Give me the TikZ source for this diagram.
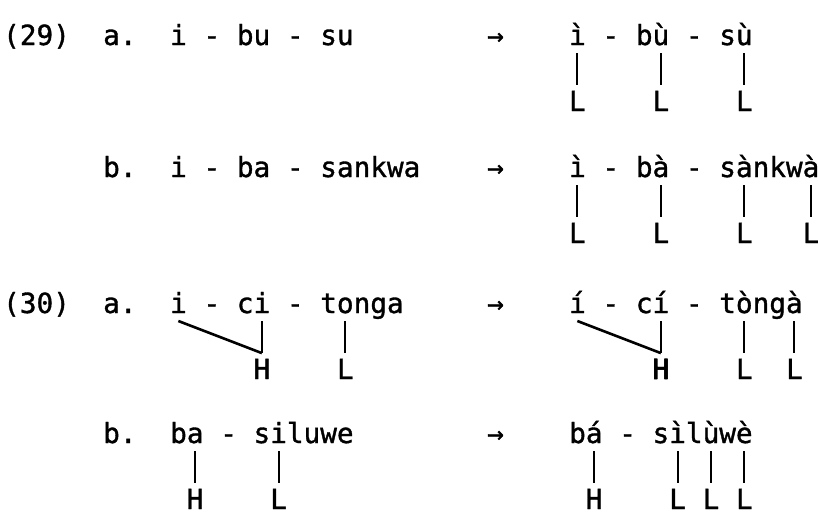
\documentclass[tikz,border=0pt]{standalone}
\usepackage{fontspec}
\setmainfont[FakeBold=1.2]{DejaVu Sans Mono}
\usetikzlibrary{calc}

% width of one typewriter cell
\newcommand{\cw}{16.7}
% vowel point and tone letter under cell #2 of the form #1
\newcommand{\vwl}[2]{\coordinate (#1-v#2) at ([shift={({(#2+.5)*\cw},8)}]#1.base west);}
\newcommand{\tone}[3]{\node[tone] (#1-t#2) at ([shift={({(#2+.5)*\cw},66)}]#1.base west) {#3};}

\begin{document}
\begin{tikzpicture}[x=1pt,y=-1pt]
\tikzset{txt/.style={inner sep=0pt,anchor=base west,font=\fontsize{27.7}{30}\selectfont}}
\tikzset{tone/.style={inner xsep=0pt,inner ysep=5.5pt,anchor=base,font=\fontsize{27.7}{30}\selectfont}}
\tikzset{assoc/.style={line width=2pt}}
\tikzset{spread/.style={line width=2.6pt}}
\useasboundingbox (0,0) rectangle (818,514);

% (29) a.
\node[txt] (n29) at (3,45) {(29)};
\node[txt] (a29) at (103,45) {a.};
\node[txt] (f29a) at (170,45) {i - bu - su};
\node[txt] (ar29a) at (487,45) {→};
\node[txt] (g29a) at (569,45) {ì - bù - sù};
\foreach \c in {0,5,10} {\vwl{g29a}{\c} \tone{g29a}{\c}{L} \draw[assoc] (g29a-v\c) -- (g29a-t\c.north);}

% (29) b.
\node[txt] (b29) at (103,177) {b.};
\node[txt] (f29b) at (170,177) {i - ba - sankwa};
\node[txt] (ar29b) at (487,177) {→};
\node[txt] (g29b) at (569,177) {ì - bà - sànkwà};
\foreach \c in {0,5,10,14} {\vwl{g29b}{\c} \tone{g29b}{\c}{L} \draw[assoc] (g29b-v\c) -- (g29b-t\c.north);}

% (30) a.
\node[txt] (n30) at (3,313) {(30)};
\node[txt] (a30) at (103,313) {a.};
\node[txt] (f30a) at (170,313) {i - ci - tonga};
\node[txt] (ar30a) at (487,313) {→};
\node[txt] (g30a) at (569,313) {í - cí - tòngà};
\vwl{f30a}{0} \vwl{f30a}{5} \vwl{f30a}{10}
\tone{f30a}{5}{H} \tone{f30a}{10}{L}
\draw[spread] (f30a-v0) -- (f30a-t5.north);
\draw[assoc] (f30a-v5) -- (f30a-t5.north);
\draw[assoc] (f30a-v10) -- (f30a-t10.north);
\vwl{g30a}{0}
\tone{g30a}{5}{H}
\draw[spread] (g30a-v0) -- (g30a-t5.north);
\foreach \c/\t in {5/H,10/L,13/L} {\vwl{g30a}{\c} \ifx\t H\else\tone{g30a}{\c}{\t}\fi \draw[assoc] (g30a-v\c) -- (g30a-t\c.north);}

% (30) b.
\node[txt] (b30) at (103,443) {b.};
\node[txt] (f30b) at (170,443) {ba - siluwe};
\node[txt] (ar30b) at (487,443) {→};
\node[txt] (g30b) at (569,443) {bá - sìlùwè};
\foreach \c/\t in {1/H,6/L} {\vwl{f30b}{\c} \tone{f30b}{\c}{\t} \draw[assoc] (f30b-v\c) -- (f30b-t\c.north);}
\foreach \c/\t in {1/H,6/L,8/L,10/L} {\vwl{g30b}{\c} \tone{g30b}{\c}{\t} \draw[assoc] (g30b-v\c) -- (g30b-t\c.north);}
\end{tikzpicture}
\end{document}
